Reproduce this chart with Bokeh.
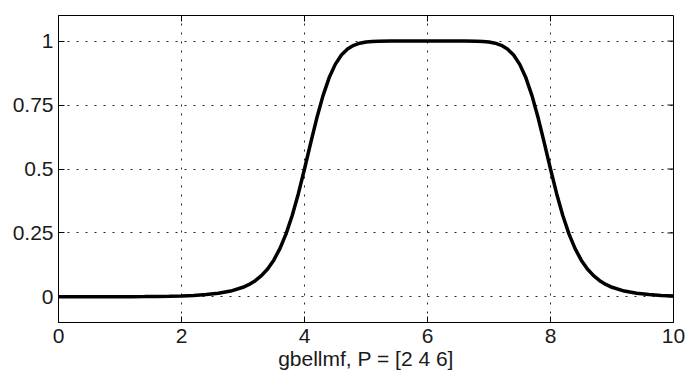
import math
from bokeh.plotting import figure
from bokeh.models import FixedTicker
from bokeh.embed import file_html
from bokeh.resources import INLINE

# gbellmf curve, P = [2 4 6]
x_vals = [0.0, 0.2, 0.4, 0.6, 0.8, 1.0, 1.2, 1.4, 1.6, 1.8, 2.0, 2.2, 2.4, 2.6, 2.8,
          3.0, 3.1, 3.2, 3.3, 3.4, 3.5, 3.6, 3.7, 3.8, 3.9, 4.0, 4.1, 4.2, 4.3, 4.4,
          4.5, 4.6, 4.7, 4.8, 4.9, 5.0, 5.1, 5.2, 5.4, 5.6, 5.8, 6.0,
          6.2, 6.4, 6.6, 6.8, 6.9, 7.0, 7.1, 7.2, 7.3, 7.4, 7.5, 7.6, 7.7, 7.8, 7.9,
          8.0, 8.1, 8.2, 8.3, 8.4, 8.5, 8.6, 8.7, 8.8, 8.9, 9.0, 9.2, 9.4, 9.6, 9.8, 10.0]
y_vals = [0.0002, 0.0002, 0.0003, 0.0004, 0.0005, 0.0007, 0.0009, 0.0013, 0.0018, 0.0026,
          0.0039, 0.0059, 0.0090, 0.0141, 0.0228,
          0.0376, 0.0487, 0.0635, 0.0831, 0.1092, 0.1437, 0.1887, 0.2464, 0.3181, 0.4036,
          0.5, 0.6012, 0.6991, 0.7859, 0.8563, 0.9090, 0.9455, 0.9691, 0.9835, 0.9917,
          0.9961, 0.9983, 0.9993, 0.9999, 1.0, 1.0, 1.0,
          1.0, 1.0, 0.9999, 0.9993, 0.9983, 0.9961, 0.9917, 0.9835, 0.9691, 0.9455,
          0.9090, 0.8563, 0.7859, 0.6991, 0.6012,
          0.5, 0.4036, 0.3181, 0.2464, 0.1887, 0.1437, 0.1092, 0.0831, 0.0635, 0.0487,
          0.0376, 0.0228, 0.0141, 0.0090, 0.0059, 0.0039]

x_ticks = [0, 2, 4, 6, 8, 10]
y_ticks = [0, 0.25, 0.5, 0.75, 1]
y_tick_labels = ["0", "0.25", "0.5", "0.75", "1"]
x_label = "gbellmf, P = [2 4 6]"
x_min, x_max = 0, 10
y_min, y_max = -0.1, 1.1

FONT = "Liberation Sans"
FS = "21px"

p = figure(width=686, height=376, x_range=(x_min, x_max), y_range=(y_min, y_max),
           output_backend="svg", toolbar_location=None,
           min_border_left=58, min_border_right=13, min_border_top=15, min_border_bottom=54)
p.background_fill_color = "white"
p.border_fill_color = "white"
p.outline_line_color = "black"
p.outline_line_width = 1

# grid
p.xgrid.ticker = FixedTicker(ticks=x_ticks)
p.ygrid.ticker = FixedTicker(ticks=y_ticks)
for g in (p.xgrid, p.ygrid):
    g.grid_line_color = "black"
    g.grid_line_alpha = 0.85
    g.grid_line_width = 1
    g.grid_line_dash = "2 7"

for ax, ticks in ((p.xaxis[0], x_ticks), (p.yaxis[0], y_ticks)):
    ax.ticker = FixedTicker(ticks=ticks)
    ax.axis_line_color = "black"
    ax.major_tick_line_color = "black"
    ax.major_tick_in = 6
    ax.major_tick_out = 0
    ax.minor_tick_line_color = None
    ax.major_label_text_font = FONT
    ax.major_label_text_font_size = FS
    ax.major_label_text_color = "#1a1a1a"

p.xaxis[0].major_label_standoff = 6
p.xaxis[0].axis_label = x_label
p.xaxis[0].axis_label_text_font = FONT
p.xaxis[0].axis_label_text_font_size = FS
p.xaxis[0].axis_label_text_font_style = "normal"
p.xaxis[0].axis_label_text_color = "#1a1a1a"
p.xaxis[0].axis_label_standoff = 1
p.yaxis[0].major_label_standoff = 5
p.yaxis[0].major_label_overrides = {t: s for t, s in zip(y_ticks, y_tick_labels)}

# inward ticks on the top and right edges of the box
p.ray(x=x_ticks, y=[y_max] * len(x_ticks), length=6, length_units="screen",
      angle=-math.pi / 2, line_color="black", line_width=1)
p.ray(x=[x_max] * len(y_ticks), y=y_ticks, length=6, length_units="screen",
      angle=math.pi, line_color="black", line_width=1)

p.line(x_vals, y_vals, line_color="black", line_width=3.5)

open("out.html", "w").write(file_html(p, INLINE))
